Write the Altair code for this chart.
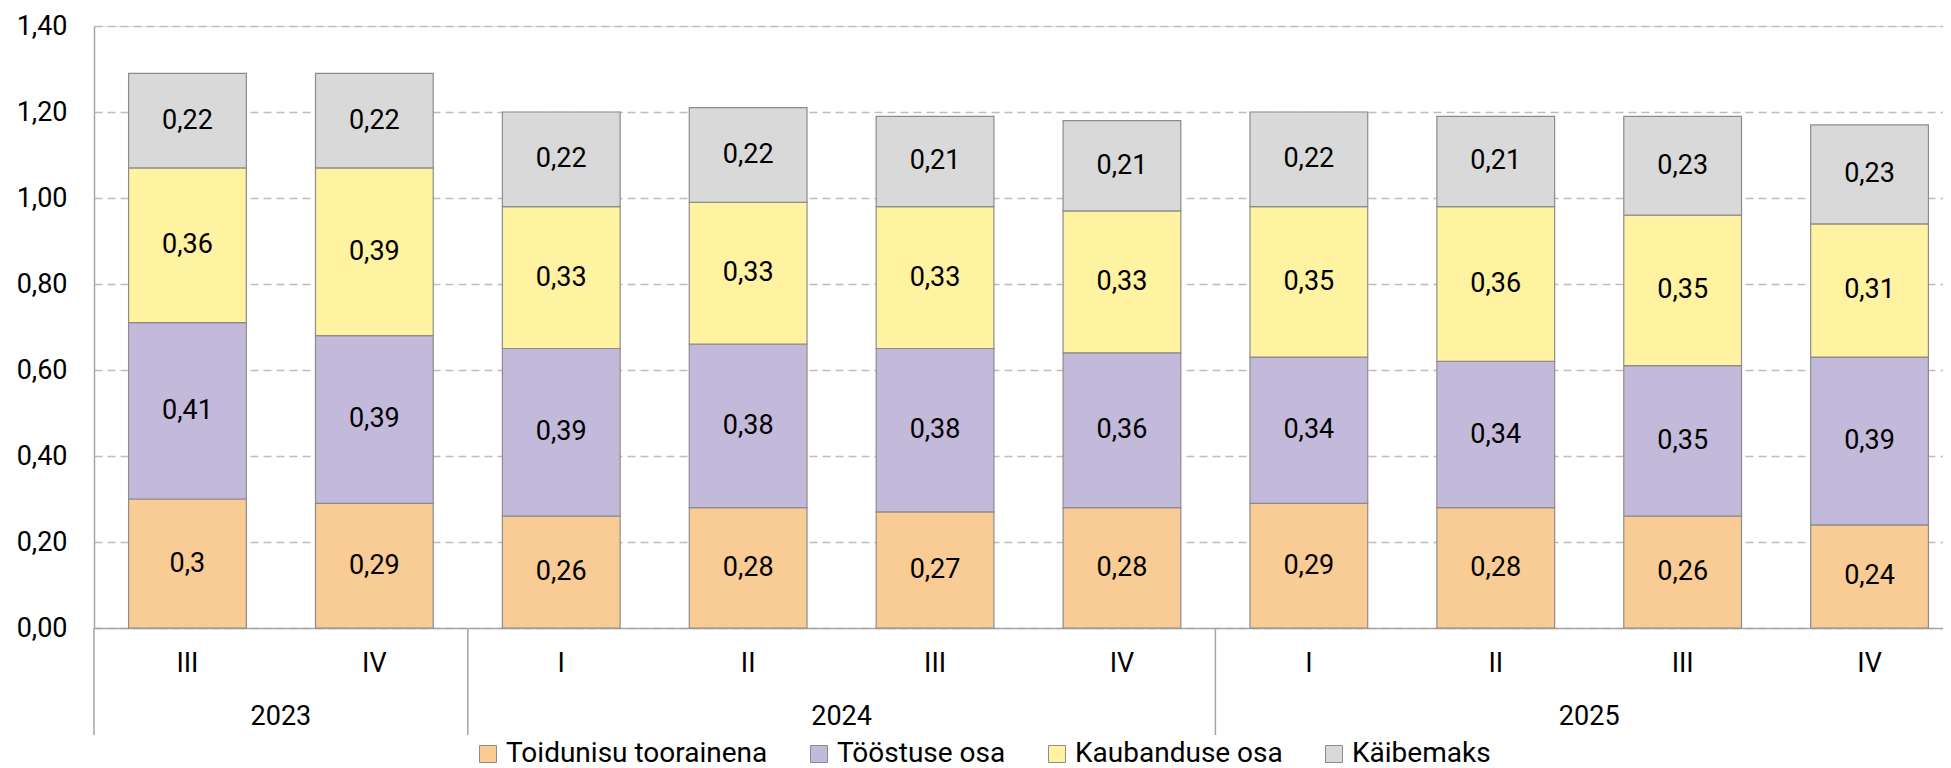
import altair as alt
import pandas as pd

# ---- data ----
years = ["2023", "2023", "2024", "2024", "2024", "2024", "2025", "2025", "2025", "2025"]
quarters = ["III", "IV", "I", "II", "III", "IV", "I", "II", "III", "IV"]
series = ["Toidunisu toorainena", "Tööstuse osa", "Kaubanduse osa", "Käibemaks"]
toidunisu = [0.30, 0.29, 0.26, 0.28, 0.27, 0.28, 0.29, 0.28, 0.26, 0.24]
toostus = [0.41, 0.39, 0.39, 0.38, 0.38, 0.36, 0.34, 0.34, 0.35, 0.39]
kaubandus = [0.36, 0.39, 0.33, 0.33, 0.33, 0.33, 0.35, 0.36, 0.35, 0.31]
kaibemaks = [0.22, 0.22, 0.22, 0.22, 0.21, 0.21, 0.22, 0.21, 0.23, 0.23]
colors = ["#F9CB95", "#C3B9DA", "#FFF2A0", "#D9D9D9"]
y_ticks = [0.0, 0.2, 0.4, 0.6, 0.8, 1.0, 1.2, 1.4]

keys = [f"{y}-{q}" for y, q in zip(years, quarters)]
values = [toidunisu, toostus, kaubandus, kaibemaks]


def fmt(v):
    s = f"{v:.2f}".rstrip("0").rstrip(".")
    return s.replace(".", ",")


rows = []
for si, (name, vals) in enumerate(zip(series, values)):
    for k, v in zip(keys, vals):
        rows.append({"key": k, "series": name, "order": si, "value": v, "label": fmt(v)})
df = pd.DataFrame(rows)

# year groups: separators at first key, labels centred on group
year_names = []
first_keys = []
mid_keys = []
for y in dict.fromkeys(years):
    ks = [k for k, yy in zip(keys, years) if yy == y]
    year_names.append(y)
    first_keys.append(ks[0])
    mid_keys.append(ks[len(ks) // 2 - 1])
ydf = pd.DataFrame({"year": year_names, "first": first_keys, "mid": mid_keys})

FONT = "Roboto"
W, H = 1849, 602
xscale = alt.Scale(domain=keys, range=[0, 1869], paddingInner=0, paddingOuter=0)

base = alt.Chart(df).transform_stack(
    stack="value", groupby=["key"], as_=["y0", "y1"], sort=[alt.SortField("order")]
).transform_calculate(mid="(datum.y0 + datum.y1) / 2")

bars = base.mark_bar(
    width=alt.RelativeBandSize(0.63), stroke="#8C8C8C", strokeWidth=1.2
).encode(
    x=alt.X(
        "key:N",
        scale=xscale,
        sort=keys,
        axis=alt.Axis(
            title=None,
            labelExpr="split(datum.label, '-')[1]",
            labelAngle=0,
            labelFontSize=27,
            labelFont=FONT,
            labelColor="#000000",
            labelBaseline="middle",
            labelPadding=35,
            ticks=False,
            tickSize=0,
            domainColor="#A6A6A6",
            domainWidth=1.5,
            grid=False,
        ),
    ),
    y=alt.Y(
        "y0:Q",
        scale=alt.Scale(domain=[0, 1.4], nice=False),
        axis=alt.Axis(
            title=None,
            values=y_ticks,
            labelExpr="replace(format(datum.value, '.2f'), '.', ',')",
            labelFontSize=27,
            labelFont=FONT,
            labelColor="#000000",
            labelPadding=27,
            ticks=False,
            tickSize=0,
            domainColor="#A6A6A6",
            domainWidth=1.5,
            grid=True,
            gridColor="#BDBDBD",
            gridDash=[8, 5],
            gridWidth=1.3,
        ),
    ),
    y2="y1:Q",
    color=alt.Color(
        "series:N",
        scale=alt.Scale(domain=series, range=colors),
        legend=alt.Legend(
            title=None,
            orient="none",
            direction="horizontal",
            legendX=380,
            legendY=714,
            symbolType="square",
            symbolSize=289,
            symbolStrokeColor="#8C8C8C",
            symbolStrokeWidth=1,
            labelFontSize=28,
            labelFont=FONT,
            labelColor="#000000",
            labelOffset=4,
            columnPadding=37,
            padding=0,
            labelLimit=400,
        ),
    ),
)

texts = base.mark_text(
    font=FONT, fontSize=27, color="#000000", baseline="middle", align="center"
).encode(
    x=alt.X("key:N", scale=xscale, sort=keys),
    y=alt.Y("mid:Q"),
    text="label:N",
)

seps = alt.Chart(ydf).mark_rule(color="#A6A6A6", strokeWidth=1.5).encode(
    x=alt.X("first:N", scale=xscale, sort=keys, bandPosition=0),
    y=alt.value(H),
    y2=alt.value(H + 107),
)

year_text = alt.Chart(ydf).mark_text(
    font=FONT, fontSize=27, color="#000000", baseline="middle", align="center"
).encode(
    x=alt.X("mid:N", scale=xscale, sort=keys, bandPosition=1),
    y=alt.value(H + 89),
    text="year:N",
)

chart = (
    alt.layer(bars, texts, seps, year_text)
    .properties(
        width=W,
        height=H,
        autosize=alt.AutoSizeParams(type="none"),
        padding={"left": 86, "top": 18, "right": 0, "bottom": 140},
    )
    .configure_view(stroke=None)
    .configure(background="white")
)

chart.save("out.html", embed_options={"renderer": "svg", "actions": False})
